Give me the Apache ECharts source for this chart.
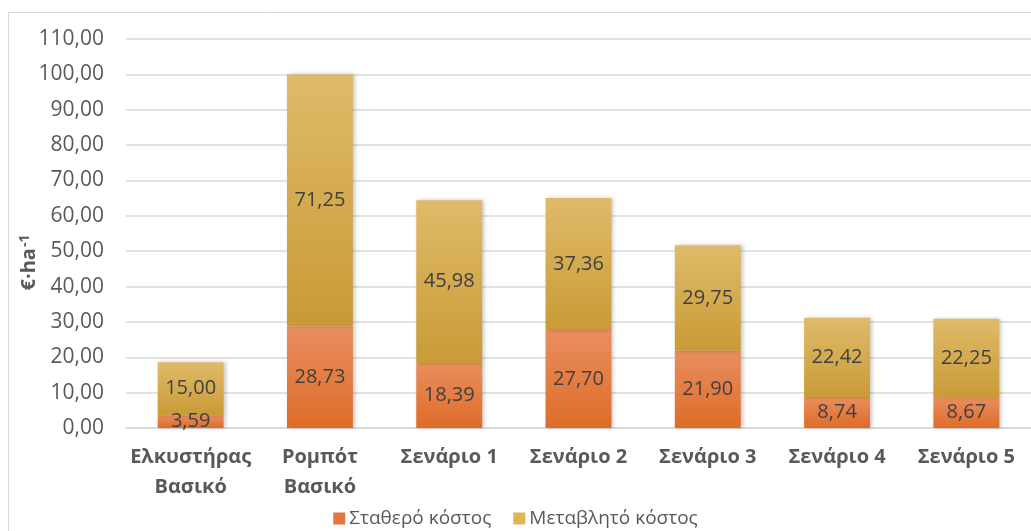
<!DOCTYPE html>
<html>
<head>
<meta charset="utf-8">
<title>Κόστος ανά εκτάριο</title>
<script src="https://cdn.jsdelivr.net/npm/echarts@6/dist/echarts.min.js"></script>
<style>
  html, body { margin: 0; padding: 0; background: #ffffff; }
  #chart { width: 1031px; height: 531px; }
</style>
</head>
<body>
<div id="chart"></div>
<script>
// Categories (machine / scenario) and the two cost components, €·ha⁻¹
const categories = ['Ελκυστήρας\nΒασικό', 'Ρομπότ\nΒασικό', 'Σενάριο 1', 'Σενάριο 2', 'Σενάριο 3', 'Σενάριο 4', 'Σενάριο 5'];
const fixedCost = [3.59, 28.73, 18.39, 27.70, 21.90, 8.74, 8.67];
const variableCost = [15.00, 71.25, 45.98, 37.36, 29.75, 22.42, 22.25];
const seriesNames = ['Σταθερό κόστος', 'Μεταβλητό κόστος'];

const FONT = '"Open Sans", "Noto Sans", sans-serif';
const fmt = v => Number(v).toFixed(2).replace('.', ',');

function grad(top, bottom) {
  return new echarts.graphic.LinearGradient(0, 0, 0, 1, [
    { offset: 0, color: top },
    { offset: 1, color: bottom }
  ]);
}

const barShadow = {
  shadowColor: 'rgba(0,0,0,0.22)',
  shadowBlur: 4,
  shadowOffsetX: 2,
  shadowOffsetY: 0
};

const labelStyle = {
  show: true,
  position: 'inside',
  color: '#404040',
  fontFamily: FONT,
  fontSize: 20,
  formatter: p => fmt(p.value)
};

const chart = echarts.init(document.getElementById('chart'), null, { renderer: 'canvas' });

chart.setOption({
  animation: false,
  backgroundColor: '#ffffff',
  textStyle: { fontFamily: FONT },
  graphic: [{
    type: 'rect',
    shape: { x: 8.5, y: 12.5, width: 1040, height: 540 },
    style: { fill: 'none', stroke: '#d9d9d9', lineWidth: 1 },
    silent: true,
    z: -10
  }],
  grid: { left: 126, right: -1, top: 39, bottom: 103, containLabel: false },
  legend: {
    data: [
      { name: seriesNames[0], itemStyle: { color: '#E5753A' } },
      { name: seriesNames[1], itemStyle: { color: '#E0B552' } }
    ],
    left: 'center',
    top: 504,
    icon: 'rect',
    itemWidth: 12,
    itemHeight: 12,
    itemGap: 22,
    textStyle: { color: '#595959', fontFamily: FONT, fontSize: 19, padding: [0, 0, 0, -1] }
  },
  xAxis: {
    type: 'category',
    data: categories,
    axisLine: { show: true, lineStyle: { color: '#d9d9d9', width: 1.5 } },
    axisTick: { show: false },
    axisLabel: {
      color: '#595959',
      fontFamily: FONT,
      fontWeight: 'bold',
      fontSize: 20,
      lineHeight: 30,
      margin: 14,
      interval: 0
    }
  },
  yAxis: {
    type: 'value',
    min: 0,
    max: 110,
    interval: 10,
    name: '{a|€·ha}{b|-1}',
    nameLocation: 'middle',
    nameRotate: 90,
    nameGap: 86,
    nameMoveOverlap: false,
    nameTextStyle: {
      color: '#595959',
      fontFamily: FONT,
      padding: [0, 58, 0, 0],
      rich: {
        a: { fontSize: 20, fontWeight: 'bold', color: '#595959', fontFamily: FONT },
        b: { fontSize: 14, fontWeight: 'bold', color: '#595959', fontFamily: FONT, verticalAlign: 'top', padding: [0, 0, 8, 1] }
      }
    },
    axisLine: { show: false },
    axisTick: { show: false },
    splitLine: { lineStyle: { color: '#d9d9d9', width: 1.5 } },
    axisLabel: {
      color: '#595959',
      fontFamily: FONT,
      fontSize: 21,
      margin: 22,
      formatter: v => fmt(v)
    }
  },
  series: [
    {
      name: seriesNames[0],
      type: 'bar',
      stack: 'total',
      barWidth: '51%',
      data: fixedCost,
      itemStyle: Object.assign({ color: grad('#E98E5F', '#DE6C28') }, barShadow),
      label: labelStyle
    },
    {
      name: seriesNames[1],
      type: 'bar',
      stack: 'total',
      barWidth: '51%',
      data: variableCost,
      itemStyle: Object.assign({ color: grad('#DFBA69', '#C99B36') }, barShadow),
      label: labelStyle
    }
  ]
});
</script>
</body>
</html>
